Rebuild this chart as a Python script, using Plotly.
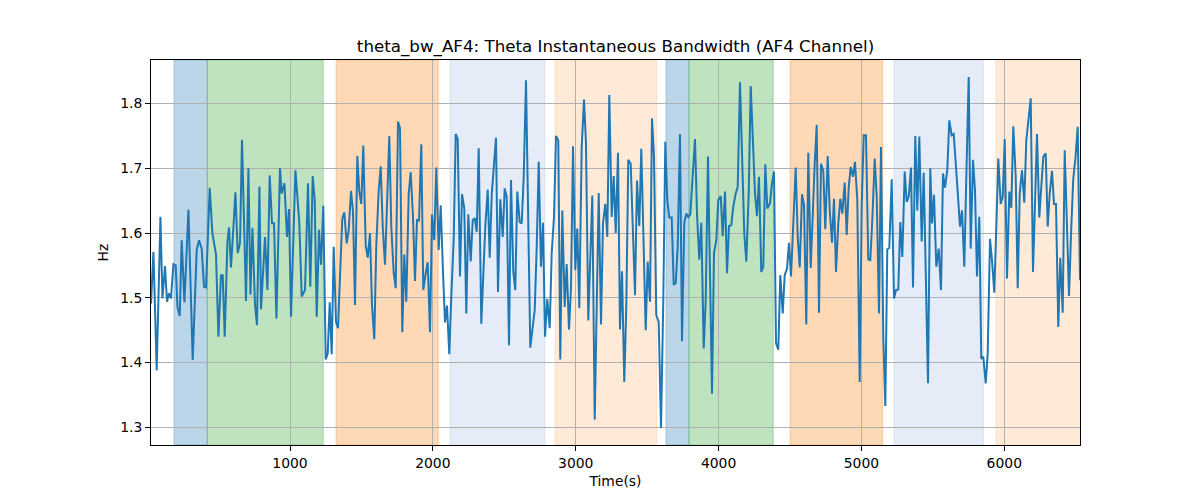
import plotly.graph_objects as go

# ---- data ----
time_s = [27, 44, 67, 93, 107, 125, 139, 153, 167, 184, 200, 212, 228, 242, 261, 289, 319, 347, 363, 382,
          398, 412, 438, 457, 482, 499, 517, 529, 543, 562, 573, 587, 604, 618, 634, 650, 664, 692, 709, 723,
          737, 755, 769, 786, 797, 825, 842, 858, 874, 888, 905, 930, 942, 961, 979, 993, 1007, 1038, 1065, 1082,
          1105, 1126, 1142, 1159, 1173, 1187, 1203, 1217, 1233, 1250, 1264, 1278, 1292, 1306, 1322, 1336, 1350, 1366, 1380, 1397,
          1411, 1427, 1441, 1455, 1471, 1485, 1499, 1513, 1530, 1544, 1560, 1574, 1590, 1604, 1621, 1635, 1649, 1665, 1681, 1695,
          1709, 1726, 1740, 1756, 1770, 1786, 1800, 1814, 1831, 1845, 1861, 1875, 1889, 1903, 1919, 1933, 1950, 1964, 1980, 1994,
          2010, 2024, 2041, 2055, 2071, 2085, 2099, 2115, 2129, 2146, 2160, 2174, 2190, 2204, 2220, 2234, 2248, 2265, 2279, 2293,
          2307, 2321, 2339, 2353, 2367, 2384, 2398, 2412, 2428, 2442, 2456, 2472, 2489, 2503, 2517, 2533, 2547, 2563, 2577, 2591,
          2608, 2622, 2636, 2652, 2682, 2696, 2713, 2727, 2741, 2757, 2771, 2785, 2801, 2818, 2832, 2848, 2862, 2878, 2892, 2906,
          2923, 2937, 2953, 2967, 2981, 2997, 3011, 3025, 3042, 3058, 3072, 3088, 3116, 3133, 3161, 3177, 3191, 3207, 3221, 3235,
          3252, 3266, 3280, 3296, 3310, 3324, 3340, 3354, 3368, 3385, 3399, 3415, 3429, 3445, 3459, 3473, 3490, 3504, 3520, 3534,
          3548, 3564, 3581, 3597, 3613, 3627, 3641, 3655, 3672, 3686, 3700, 3714, 3730, 3744, 3760, 3774, 3788, 3802, 3819, 3835,
          3849, 3865, 3879, 3896, 3910, 3926, 3940, 3954, 3968, 3984, 3998, 4015, 4029, 4045, 4059, 4073, 4089, 4103, 4120, 4134,
          4150, 4164, 4180, 4194, 4211, 4225, 4239, 4255, 4269, 4283, 4299, 4313, 4327, 4341, 4360, 4374, 4388, 4402, 4418, 4432,
          4449, 4463, 4479, 4493, 4507, 4523, 4540, 4554, 4568, 4584, 4598, 4614, 4628, 4645, 4659, 4673, 4687, 4703, 4717, 4733,
          4747, 4764, 4778, 4794, 4808, 4822, 4838, 4852, 4866, 4883, 4897, 4911, 4925, 4941, 4955, 4971, 4988, 5002, 5016, 5032,
          5048, 5062, 5076, 5093, 5107, 5123, 5137, 5153, 5167, 5181, 5195, 5212, 5228, 5242, 5258, 5272, 5286, 5303, 5317, 5331,
          5347, 5361, 5377, 5391, 5405, 5422, 5436, 5450, 5466, 5482, 5494, 5508, 5524, 5541, 5557, 5571, 5585, 5601, 5615, 5632,
          5646, 5662, 5676, 5690, 5704, 5720, 5737, 5751, 5765, 5781, 5795, 5809, 5825, 5839, 5853, 5870, 5884, 5900, 5914, 5930,
          5944, 5958, 5975, 5989, 6003, 6019, 6035, 6049, 6063, 6080, 6094, 6108, 6124, 6140, 6154, 6171, 6185, 6201, 6215, 6229,
          6245, 6259, 6273, 6290, 6304, 6318, 6334, 6348, 6362, 6378, 6392, 6409, 6423, 6439, 6453, 6469, 6483, 6497, 6514, 6530]

bw_hz = [1.491, 1.571, 1.388, 1.625, 1.499, 1.549, 1.494, 1.507, 1.499, 1.552, 1.550, 1.486, 1.472, 1.589, 1.493, 1.636, 1.404, 1.574, 1.589, 1.576,
         1.517, 1.516, 1.670, 1.599, 1.567, 1.440, 1.535, 1.535, 1.440, 1.587, 1.609, 1.547, 1.610, 1.663, 1.569, 1.585, 1.744, 1.495, 1.700, 1.505,
         1.608, 1.489, 1.458, 1.672, 1.482, 1.594, 1.512, 1.689, 1.615, 1.615, 1.468, 1.700, 1.661, 1.677, 1.594, 1.637, 1.471, 1.697, 1.616, 1.502,
         1.512, 1.677, 1.517, 1.688, 1.651, 1.471, 1.605, 1.551, 1.642, 1.405, 1.414, 1.493, 1.413, 1.579, 1.463, 1.453, 1.533, 1.622, 1.632, 1.584,
         1.605, 1.665, 1.633, 1.489, 1.719, 1.664, 1.645, 1.735, 1.581, 1.562, 1.600, 1.489, 1.436, 1.581, 1.666, 1.703, 1.610, 1.551, 1.656, 1.750,
         1.610, 1.538, 1.515, 1.772, 1.762, 1.447, 1.567, 1.494, 1.661, 1.694, 1.625, 1.526, 1.620, 1.619, 1.737, 1.512, 1.538, 1.555, 1.447, 1.629,
         1.589, 1.701, 1.574, 1.643, 1.540, 1.462, 1.488, 1.413, 1.502, 1.591, 1.753, 1.745, 1.533, 1.660, 1.638, 1.476, 1.629, 1.556, 1.620, 1.623,
         1.602, 1.731, 1.460, 1.543, 1.610, 1.667, 1.562, 1.659, 1.702, 1.747, 1.509, 1.652, 1.594, 1.669, 1.656, 1.427, 1.682, 1.540, 1.512, 1.664,
         1.617, 1.615, 1.687, 1.836, 1.423, 1.450, 1.481, 1.579, 1.710, 1.548, 1.616, 1.440, 1.498, 1.453, 1.569, 1.625, 1.750, 1.743, 1.405, 1.635,
         1.486, 1.552, 1.451, 1.516, 1.734, 1.543, 1.607, 1.484, 1.733, 1.806, 1.738, 1.465, 1.658, 1.312, 1.662, 1.459, 1.615, 1.645, 1.594, 1.813,
         1.625, 1.688, 1.600, 1.724, 1.451, 1.541, 1.370, 1.486, 1.713, 1.707, 1.599, 1.504, 1.681, 1.611, 1.730, 1.610, 1.450, 1.556, 1.494, 1.777,
         1.718, 1.473, 1.463, 1.299, 1.496, 1.741, 1.651, 1.624, 1.624, 1.520, 1.523, 1.579, 1.753, 1.433, 1.616, 1.630, 1.625, 1.629, 1.697, 1.745,
         1.630, 1.559, 1.616, 1.422, 1.496, 1.718, 1.538, 1.352, 1.569, 1.589, 1.651, 1.657, 1.595, 1.664, 1.538, 1.611, 1.612, 1.641, 1.661, 1.671,
         1.833, 1.738, 1.599, 1.556, 1.661, 1.827, 1.738, 1.661, 1.626, 1.687, 1.540, 1.548, 1.706, 1.638, 1.646, 1.677, 1.695, 1.430, 1.420, 1.535,
         1.476, 1.535, 1.545, 1.585, 1.533, 1.623, 1.701, 1.594, 1.547, 1.660, 1.643, 1.459, 1.724, 1.546, 1.635, 1.707, 1.767, 1.477, 1.707, 1.696,
         1.606, 1.719, 1.635, 1.585, 1.653, 1.540, 1.615, 1.653, 1.630, 1.678, 1.597, 1.671, 1.702, 1.687, 1.710, 1.651, 1.370, 1.641, 1.751, 1.751,
         1.559, 1.558, 1.620, 1.715, 1.656, 1.476, 1.733, 1.440, 1.333, 1.575, 1.577, 1.683, 1.499, 1.512, 1.513, 1.617, 1.563, 1.695, 1.648, 1.656,
         1.701, 1.516, 1.750, 1.635, 1.749, 1.587, 1.693, 1.527, 1.368, 1.700, 1.615, 1.659, 1.548, 1.576, 1.512, 1.692, 1.670, 1.697, 1.774, 1.751,
         1.753, 1.702, 1.661, 1.610, 1.635, 1.548, 1.713, 1.841, 1.576, 1.713, 1.666, 1.533, 1.625, 1.406, 1.409, 1.368, 1.414, 1.591, 1.558, 1.508,
         1.610, 1.715, 1.645, 1.656, 1.745, 1.530, 1.664, 1.639, 1.765, 1.687, 1.515, 1.661, 1.697, 1.647, 1.743, 1.785, 1.808, 1.540, 1.648, 1.753,
         1.624, 1.671, 1.718, 1.723, 1.610, 1.661, 1.696, 1.645, 1.645, 1.455, 1.562, 1.477, 1.728, 1.610, 1.503, 1.610, 1.684, 1.713, 1.764, 1.527]

# shaded segments (start, end, kind)
region_start = [188, 421, 1322, 2120, 2855, 3632, 3793, 4500, 5228, 5941]
region_end = [421, 1233, 2038, 2785, 3567, 3793, 4383, 5149, 5855, 6600]
region_kind = ["A", "B", "C", "D", "E", "A", "B", "C", "D", "E"]

x_ticks = [1000, 2000, 3000, 4000, 5000, 6000]
y_ticks = [1.3, 1.4, 1.5, 1.6, 1.7, 1.8]

kind_color = {
    "A": "rgba(31,119,180,0.30)",
    "B": "rgba(44,160,44,0.30)",
    "C": "rgba(255,127,14,0.30)",
    "D": "rgba(160,185,228,0.28)",
    "E": "rgba(255,127,14,0.16)",
}

fig = go.Figure()

for s, e, k in zip(region_start, region_end, region_kind):
    fig.add_shape(type="rect", xref="x", yref="paper", x0=s, x1=e, y0=0, y1=1,
                  fillcolor=kind_color[k], line=dict(color=kind_color[k], width=1),
                  layer="below")

fig.add_trace(go.Scatter(x=time_s, y=bw_hz, mode="lines",
                         line=dict(color="#1f77b4", width=2), showlegend=False))

font_family = "DejaVu Sans"
fig.update_layout(
    width=1200, height=500,
    margin=dict(l=151, r=120, t=60, b=55),
    paper_bgcolor="white", plot_bgcolor="white",
    font=dict(family=font_family, size=13.9, color="black"),
    title=dict(text="theta_bw_AF4: Theta Instantaneous Bandwidth (AF4 Channel)",
               x=0.5, xref="paper", xanchor="center",
               y=1 - 46 / 500, yref="container", yanchor="middle",
               font=dict(family=font_family, size=16.7, color="black")),
    showlegend=False,
)

fig.update_xaxes(range=[27, 6530], tickvals=x_ticks, ticktext=[str(v) for v in x_ticks],
                 showgrid=True, gridcolor="#b0b0b0", gridwidth=0.8,
                 showline=True, linecolor="black", linewidth=1, mirror=True,
                 ticks="outside", ticklen=5, tickwidth=1, tickcolor="black",
                 zeroline=False,
                 title=dict(text="Time(s)", standoff=6, font=dict(size=13.9)))
fig.update_yaxes(range=[1.2728, 1.8672], tickvals=y_ticks, ticktext=[f"{v:.1f}" for v in y_ticks],
                 showgrid=True, gridcolor="#b0b0b0", gridwidth=0.8,
                 showline=True, linecolor="black", linewidth=1, mirror=True,
                 ticks="outside", ticklen=5, tickwidth=1, tickcolor="black",
                 zeroline=False,
                 title=dict(text="Hz", standoff=8, font=dict(size=13.9)))

fig.write_html("out.html")
